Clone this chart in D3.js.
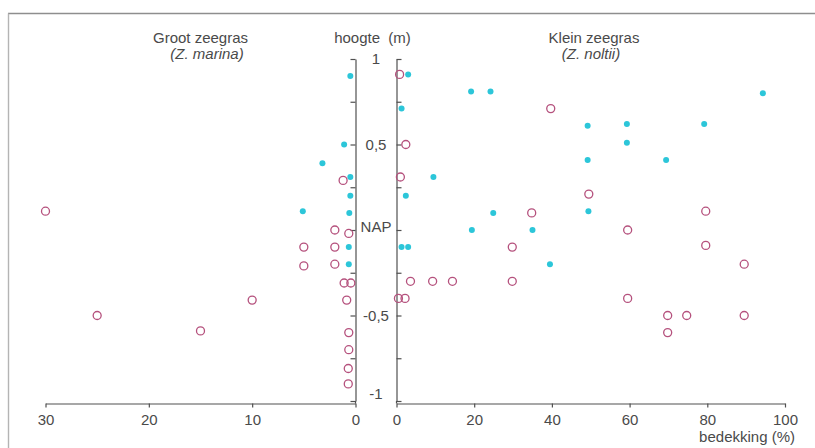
<!DOCTYPE html>
<html><head><meta charset="utf-8">
<script src="https://cdn.jsdelivr.net/npm/d3@7"></script>
<style>
body{margin:0;background:#fff}
svg{display:block}
text{font-family:"Liberation Sans",Arial,Helvetica,sans-serif;fill:#4a4a4a;font-size:15px}
</style>
</head><body>
<svg id="chart" width="815" height="448"></svg>
<script>
// ---- data ----
const heightTicks = [1, 0.75, 0.5, 0.25, 0, -0.25, -0.5, -0.75, -1];
const heightLabelValues = [1, 0.5, 0, -0.5, -1];
const heightLabelTexts = ["1", "0,5", "NAP", "-0,5", "-1"];
const marinaTicks = [30, 20, 10, 0];
const noltiiTicks = [0, 20, 40, 60, 80, 100];

// Groot zeegras (Z. marina): [bedekking %, hoogte m]
const marinaFilled = [[0.5,0.9],[1.1,0.5],[3.2,0.39],[0.5,0.31],[0.5,0.2],[0.6,0.1],[5.1,0.11],[0.65,-0.1],[0.65,-0.2]];
const marinaOpen = [[1.2,0.29],[30,0.11],[2,0],[0.65,-0.02],[5,-0.1],[2,-0.1],[5,-0.21],[2,-0.2],[1.1,-0.31],[0.45,-0.31],[0.85,-0.41],[10,-0.41],[25,-0.5],[15,-0.59],[0.65,-0.6],[0.65,-0.7],[0.7,-0.81],[0.7,-0.9]];

// Klein zeegras (Z. noltii): [bedekking %, hoogte m]
const noltiiFilled = [[3,0.91],[1.3,0.71],[19.2,0.81],[24.2,0.81],[94.3,0.8],[49.2,0.61],[59.3,0.62],[79.2,0.62],[59.3,0.51],[49.2,0.41],[69.4,0.41],[9.5,0.31],[2.4,0.2],[24.9,0.1],[49.4,0.11],[19.4,0],[35,0],[1.3,-0.1],[3,-0.1],[39.5,-0.2]];
const noltiiOpen = [[0.8,0.91],[2.4,0.5],[39.7,0.71],[1,0.31],[49.5,0.21],[34.8,0.1],[79.6,0.11],[59.5,0],[29.8,-0.1],[79.6,-0.09],[89.5,-0.2],[3.6,-0.3],[9.3,-0.3],[14.4,-0.3],[29.8,-0.3],[0.5,-0.4],[2.2,-0.4],[59.5,-0.4],[69.8,-0.5],[74.7,-0.5],[89.5,-0.5],[69.8,-0.6]];

// ---- layout ----
const svg = d3.select("#chart");
const axisColor = "#505050";
const cyan = "#2cc6d9";
const pink = "#b5517d";
const baseY = 403.5;

const y = d3.scaleLinear().domain([-1, 1]).range([401, 59]);
const xL = d3.scaleLinear().domain([0, 30]).range([355.5, 45.5]);
const xR = d3.scaleLinear().domain([0, 100]).range([396.5, 785]);

// frame
svg.append("line").attr("x1", 8).attr("x2", 815).attr("y1", 13.5).attr("y2", 13.5)
  .attr("stroke", "#8e8e8e").attr("stroke-width", 1.4);
svg.append("line").attr("x1", 8.5).attr("x2", 8.5).attr("y1", 13.5).attr("y2", 448)
  .attr("stroke", "#b4b4b4").attr("stroke-width", 1.4);

function styleAxis(g) {
  g.selectAll("path, line").attr("stroke", axisColor).attr("stroke-width", 1.2);
  g.selectAll("text").attr("fill", "#4a4a4a").style("font-size", "15px")
    .style("font-family", '"Liberation Sans",Arial,sans-serif');
}

// vertical axes
const gVL = svg.append("g").attr("transform", "translate(355.5,0)")
  .call(d3.axisLeft(y).tickValues(heightTicks).tickFormat("").tickSize(5).tickSizeOuter(0));
styleAxis(gVL);
const gVR = svg.append("g").attr("transform", "translate(396.5,0)")
  .call(d3.axisRight(y).tickValues(heightTicks).tickFormat("").tickSize(5).tickSizeOuter(0));
styleAxis(gVR);
[355.5, 396.5].forEach(xx => svg.append("line").attr("x1", xx).attr("x2", xx)
  .attr("y1", y(-1)).attr("y2", baseY).attr("stroke", axisColor).attr("stroke-width", 1.2));

// height labels
const labelDy = v => v === 0 ? 2 : (v === -1 ? -2.5 : (v === 1 ? 4.5 : 5.3));
svg.append("g").selectAll("text").data(heightLabelValues).join("text")
  .attr("x", 376).attr("y", d => y(d) + labelDy(d))
  .attr("text-anchor", "middle")
  .text((d, i) => heightLabelTexts[i]);

// x axes
const gXL = svg.append("g").attr("transform", `translate(0,${baseY})`)
  .call(d3.axisBottom(xL).tickValues(marinaTicks).tickFormat(d3.format("d")).tickSize(4).tickSizeOuter(0).tickPadding(7));
styleAxis(gXL);
const gXR = svg.append("g").attr("transform", `translate(0,${baseY})`)
  .call(d3.axisBottom(xR).tickValues(noltiiTicks).tickFormat(d3.format("d")).tickSize(4).tickSizeOuter(0).tickPadding(7));
styleAxis(gXR);

// titles
svg.append("text").attr("x", 200.5).attr("y", 42.5).attr("text-anchor", "middle").text("Groot zeegras");
svg.append("text").attr("x", 207).attr("y", 59).attr("text-anchor", "middle").style("font-style", "italic").text("(Z. marina)");
svg.append("text").attr("x", 372.5).attr("y", 42.5).attr("text-anchor", "middle").style("white-space", "pre").text("hoogte  (m)");
svg.append("text").attr("x", 594).attr("y", 42.5).attr("text-anchor", "middle").text("Klein zeegras");
svg.append("text").attr("x", 591).attr("y", 59).attr("text-anchor", "middle").style("font-style", "italic").text("(Z. noltii)");
svg.append("text").attr("x", 795).attr("y", 441.5).attr("text-anchor", "end").text("bedekking (%)");

// points
function drawFilled(data, xs) {
  svg.append("g").selectAll("circle").data(data).join("circle")
    .attr("cx", d => xs(d[0])).attr("cy", d => y(d[1])).attr("r", 3)
    .attr("fill", cyan);
}
function drawOpen(data, xs) {
  svg.append("g").selectAll("circle").data(data).join("circle")
    .attr("cx", d => xs(d[0])).attr("cy", d => y(d[1])).attr("r", 4)
    .attr("fill", "none").attr("stroke", pink).attr("stroke-width", 1.3);
}
drawFilled(marinaFilled, xL);
drawFilled(noltiiFilled, xR);
drawOpen(marinaOpen, xL);
drawOpen(noltiiOpen, xR);
</script>
</body></html>
